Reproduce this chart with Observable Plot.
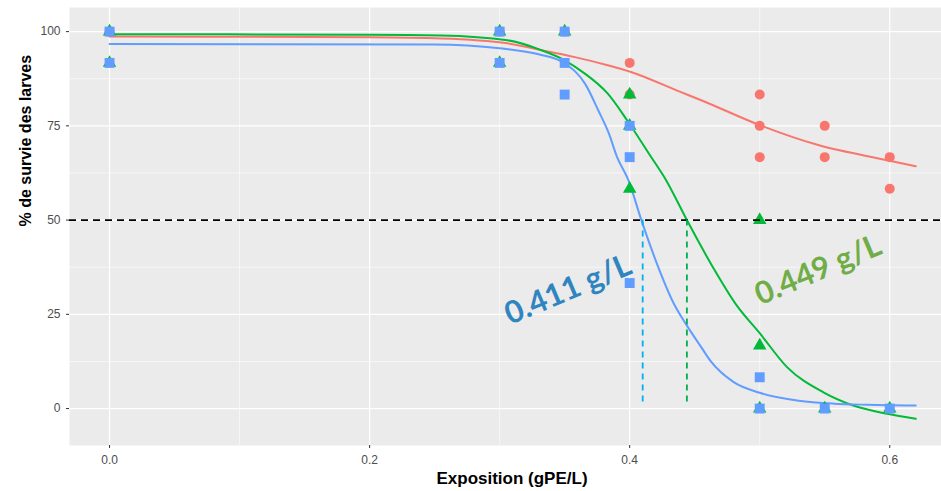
<!DOCTYPE html>
<html><head><meta charset="utf-8">
<script src="https://cdn.jsdelivr.net/npm/d3@7"></script>
<script src="https://cdn.jsdelivr.net/npm/@observablehq/plot@0.6"></script>
<style>body{margin:0;background:#fff}</style>
</head><body><div id="chart"></div>
<script>
// ---- data ----
const series = ["rouge", "vert", "bleu"];
const xTicks = [0, 0.2, 0.4, 0.6];
const yTicks = [0, 25, 50, 75, 100];
const xMinor = [0.1, 0.3, 0.5];
const yMinor = [12.5, 37.5, 62.5, 87.5];

// observed survival (%) per exposure (gPE/L)
const ptsX_rouge = [0, 0.3, 0.35, 0.4, 0.4, 0.5, 0.5, 0.5, 0.55, 0.55, 0.6, 0.6];
const ptsY_rouge = [100, 100, 100, 91.7, 83.3, 83.3, 75, 66.7, 75, 66.7, 66.7, 58.3];
const ptsX_vert = [0, 0, 0.3, 0.3, 0.35, 0.4, 0.4, 0.4, 0.5, 0.5, 0.5, 0.55, 0.6];
const ptsY_vert = [100, 91.7, 100, 91.7, 100, 83.3, 75, 58.3, 50, 16.7, 0, 0, 0];
const ptsX_bleu = [0, 0, 0.3, 0.3, 0.35, 0.35, 0.35, 0.4, 0.4, 0.4, 0.5, 0.5, 0.55, 0.6];
const ptsY_bleu = [100, 91.7, 100, 91.7, 100, 91.7, 83.3, 75, 66.7, 33.3, 8.3, 0, 0, 0];

// fitted curves
const fitX_rouge = [0, 0.2, 0.255, 0.306, 0.339, 0.357, 0.383, 0.401, 0.439, 0.455, 0.5, 0.545, 0.598, 0.62];
const fitY_rouge = [98.7, 98.5, 98.2, 96.9, 94.6, 93.3, 91.1, 89.3, 84, 81.8, 75.2, 69.9, 65.9, 64.3];
const fitX_vert = [0, 0.2, 0.255, 0.306, 0.332, 0.35, 0.365, 0.383, 0.398, 0.416, 0.428, 0.444, 0.464, 0.482, 0.5, 0.521, 0.549, 0.572, 0.598, 0.62];
const fitY_vert = [99.3, 99.2, 99.0, 97.7, 95.1, 92.4, 89, 83.6, 76.5, 67, 60.6, 50, 37.5, 27.5, 20, 11, 4.3, 0.8, -1.4, -2.7];
const fitX_bleu = [0, 0.25, 0.3, 0.33, 0.35, 0.366, 0.376, 0.384, 0.39, 0.399, 0.409, 0.421, 0.434, 0.444, 0.455, 0.462, 0.48, 0.5, 0.53, 0.557, 0.583, 0.62];
const fitY_bleu = [96.7, 96.6, 95.6, 94, 91.6, 86, 79, 73, 67, 60.6, 50, 38.4, 27.8, 22, 16.3, 12.7, 7, 4.2, 2.1, 1.3, 1.0, 0.8];

// LC50 markers
const lc50X = [0.41, 0.444];
const lc50Labels = ["0.411 g/L", "0.449 g/L"];
const lc50LabelX = [0.3526, 0.545];
const lc50LabelY = [31.5, 36.7];

// ---- build tables ----
const toRows = (xs, ys, s) => xs.map((x, i) => ({x, y: ys[i], s}));
const pts = {
  rouge: toRows(ptsX_rouge, ptsY_rouge, "rouge"),
  vert: toRows(ptsX_vert, ptsY_vert, "vert"),
  bleu: toRows(ptsX_bleu, ptsY_bleu, "bleu")
};
const fits = [
  ...toRows(fitX_rouge, fitY_rouge, "rouge"),
  ...toRows(fitX_vert, fitY_vert, "vert"),
  ...toRows(fitX_bleu, fitY_bleu, "bleu")
];
const colors = {rouge: "#F8766D", vert: "#00BA38", bleu: "#619CFF"};
const symbols = {rouge: "circle", vert: "triangle", bleu: "square"};
const radii = {rouge: 5, vert: 5, bleu: 5.6};
const dashColors = ["#00B0F0", "#00B050"];
const labelColors = ["#2F85BF", "#70AD47"];

const marks = [
  Plot.frame({fill: "#EBEBEB"}),
  Plot.ruleX(xMinor, {stroke: "white", strokeWidth: 0.6}),
  Plot.ruleY(yMinor, {stroke: "white", strokeWidth: 0.6}),
  Plot.ruleX(xTicks, {stroke: "white", strokeWidth: 1.2}),
  Plot.ruleY(yTicks, {stroke: "white", strokeWidth: 1.2}),
  Plot.axisX(xTicks, {tickSize: 3, tickPadding: 7, tickFormat: d => d.toFixed(1), fontSize: 12, fill: "#4D4D4D", stroke: "#333333", label: null}),
  Plot.axisY(yTicks, {tickSize: 3, tickPadding: 6, fontSize: 12, fill: "#4D4D4D", stroke: "#333333", label: null}),
  Plot.line(fits, {x: "x", y: "y", z: "s", stroke: d => colors[d.s], strokeWidth: 2, curve: "monotone-x"}),
  ...series.map(s => Plot.dot(pts[s], {x: "x", y: "y", fill: colors[s], symbol: symbols[s], r: radii[s]})),
  Plot.ruleY([50], {stroke: "black", strokeWidth: 1.8, strokeDasharray: "7,5"}),
  ...lc50X.map((v, i) => Plot.ruleX([v], {y1: 50, y2: 1.7, stroke: dashColors[i], strokeWidth: 1.8, strokeDasharray: "6,5"})),
  ...lc50Labels.map((t, i) => Plot.text([t], {x: [lc50LabelX[i]], y: [lc50LabelY[i]], text: d => d, rotate: -23, fill: labelColors[i], fontSize: 31, fontWeight: "bold", fontFamily: "Lato"})),
  Plot.text(["Exposition (gPE/L)"], {x: [0.3095], frameAnchor: "bottom", dy: 38, text: d => d, fontSize: 17, fontWeight: "bold", fill: "black"}),
  Plot.text(["% de survie des larves"], {frameAnchor: "left", dx: -44, rotate: -90, text: d => d, fontSize: 16, fontWeight: "bold", fill: "black"})
];

const chart = Plot.plot({
  width: 941,
  height: 491,
  marginLeft: 69,
  marginRight: 0,
  marginTop: 7,
  marginBottom: 46,
  style: {fontFamily: "'Liberation Sans', Arial, sans-serif", background: "white"},
  x: {domain: [-0.0308, 0.6398], axis: null},
  y: {domain: [-9.8, 106.4], axis: null},
  marks
});
document.getElementById("chart").appendChild(chart);
</script>
</body></html>
